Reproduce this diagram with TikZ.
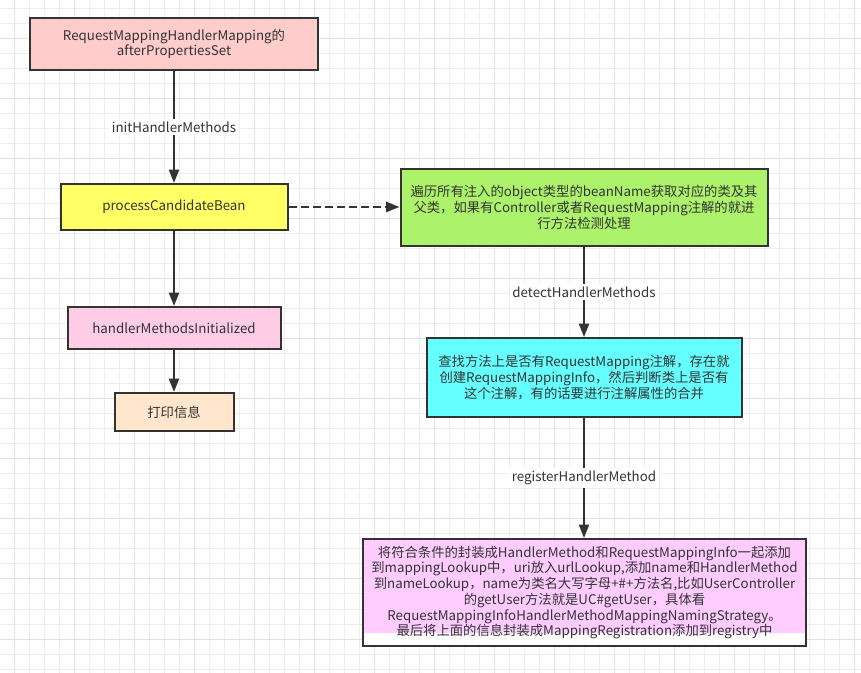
\documentclass[tikz,border=0pt]{standalone}
\usepackage{fontspec}
\setmainfont{Noto Sans CJK SC}
\usetikzlibrary{arrows.meta}
\definecolor{ink}{HTML}{333333}
\definecolor{gridminor}{HTML}{EDEDED}
\definecolor{gridmajor}{HTML}{E2E2E2}
\definecolor{cPink}{HTML}{FFCCCC}
\definecolor{cYellow}{HTML}{FFFF66}
\definecolor{cGreen}{HTML}{ACF26A}
\definecolor{cCyan}{HTML}{66FFFF}
\definecolor{cViolet}{HTML}{FFCCFF}
\definecolor{cRose}{HTML}{FFCCE6}
\definecolor{cPeach}{HTML}{FFE6CC}
\tikzset{
  box/.style={draw=ink, line width=1.5pt, rectangle, inner sep=0pt, align=center,
    text=ink, font=\fontsize{10pt}{11.8pt}\selectfont},
  arr/.style={draw=ink, line width=1.5pt, -{Triangle[length=10pt,width=7.5pt]}},
  dasharr/.style={arr, dash pattern=on 6pt off 3pt},
  lbl/.style={fill=white, text=ink, inner sep=2pt, font=\fontsize{10pt}{12pt}\selectfont},
}
\begin{document}
\begin{tikzpicture}[x=0.75pt,y=-0.75pt]
\useasboundingbox (0,0) rectangle (861,673);
\fill[white] (0,0) rectangle (861,673);
% grid
\foreach \i in {0,...,57} {
  \pgfmathtruncatemacro{\xx}{14+15*\i}
  \draw[gridminor, line width=0.75pt] (\xx,0) -- (\xx,673);
}
\foreach \j in {0,...,44} {
  \pgfmathtruncatemacro{\yy}{9+15*\j}
  \draw[gridminor, line width=0.75pt] (0,\yy) -- (861,\yy);
}
\foreach \i in {0,...,14} {
  \pgfmathtruncatemacro{\xx}{14+60*\i}
  \draw[gridmajor, line width=0.75pt] (\xx,0) -- (\xx,673);
}
\foreach \j in {0,...,11} {
  \pgfmathtruncatemacro{\yy}{39+60*\j}
  \draw[gridmajor, line width=0.75pt] (0,\yy) -- (861,\yy);
}

% nodes
\node[box, fill=cPink, minimum width=288*0.75pt, minimum height=52*0.75pt] (b1) at (174,44)
  {RequestMappingHandlerMapping的\\afterPropertiesSet};
\node[box, fill=cYellow, minimum width=227*0.75pt, minimum height=46*0.75pt] (b2) at (174,207)
  {processCandidateBean};
\node[box, fill=cRose, minimum width=213*0.75pt, minimum height=42*0.75pt] (b3) at (174,328)
  {handlerMethodsInitialized};
\node[box, fill=cPeach, minimum width=119*0.75pt, minimum height=38*0.75pt] (b4) at (174,412)
  {打印信息};
\node[box, fill=cGreen, minimum width=367*0.75pt, minimum height=77*0.75pt] (g) at (584,207.5)
  {遍历所有注入的object类型的beanName获取对应的类及其\\父类，如果有Controller或者RequestMapping注解的就进\\行方法检测处理};
\node[box, fill=cCyan, minimum width=315*0.75pt, minimum height=79*0.75pt] (c) at (584,377.5)
  {查找方法上是否有RequestMapping注解，存在就\\创建RequestMappingInfo，然后判断类上是否有\\这个注解，有的话要进行注解属性的合并};
% violet box background with white strip
\fill[cViolet] (363,539) rectangle (806,633);
\fill[white] (363,633) rectangle (806,646);
\node[box, minimum width=443*0.75pt, minimum height=107*0.75pt] (m) at (584.5,592.5)
  {将符合条件的封装成HandlerMethod和RequestMappingInfo一起添加\\到mappingLookup中，uri放入urlLookup,添加name和HandlerMethod\\到nameLookup，name为类名大写字母+\#+方法名,比如UserController\\的getUser方法就是UC\#getUser，具体看\\RequestMappingInfoHandlerMethodMappingNamingStrategy。\\最后将上面的信息封装成MappingRegistration添加到registry中};

% connectors
\draw[arr] (b1) -- node[lbl]{initHandlerMethods} (b2);
\draw[arr] (b2) -- (b3);
\draw[arr] (b3) -- (b4);
\draw[dasharr] (b2.east) -- (g.west |- b2.east);
\draw[arr] (g) -- node[lbl]{detectHandlerMethods} (c);
\draw[arr] (c) -- node[lbl]{registerHandlerMethod} (c.south |- m.north);
\end{tikzpicture}
\end{document}
